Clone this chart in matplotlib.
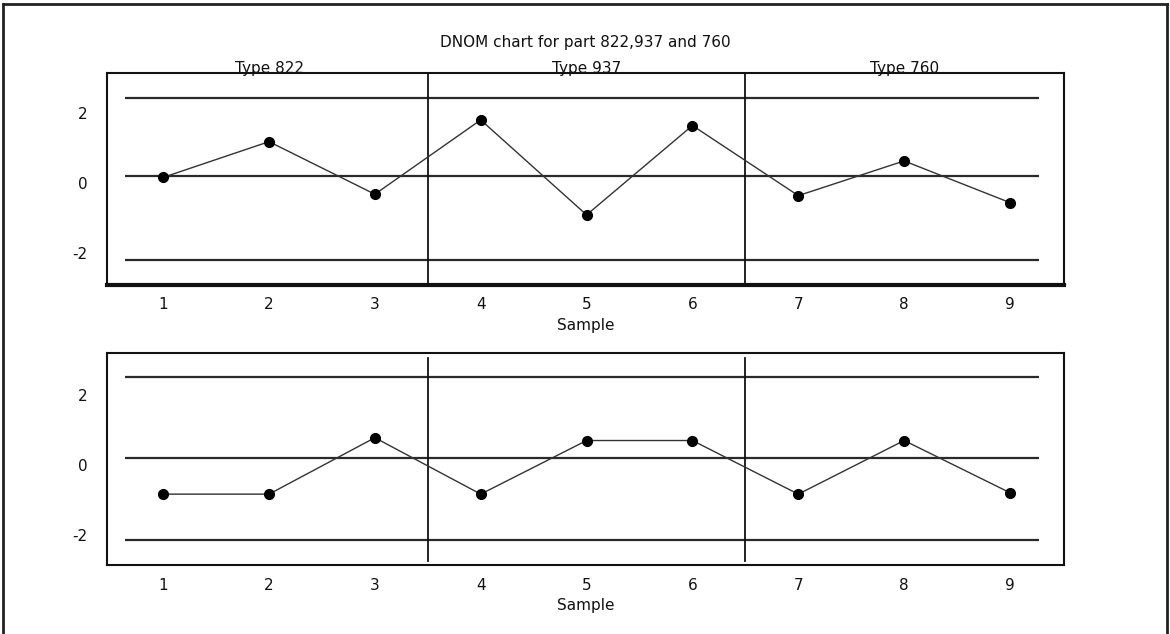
import matplotlib.pyplot as plt
import matplotlib.transforms as mtransforms
from matplotlib.lines import Line2D

plt.rcParams["axes.unicode_minus"] = False

# sample numbers and the part type each block of three belongs to
samples = [1, 2, 3, 4, 5, 6, 7, 8, 9]
type_names = ["Type 822", "Type 937", "Type 760"]
type_centers = [2, 5, 8]
type_breaks = [3.5, 6.5]

# deviation from nominal, one value per sample
top_values = [-0.05, 0.97, -0.53, 1.59, -1.12, 1.43, -0.57, 0.42, -0.77]
bottom_values = [-1.04, -1.04, 0.57, -1.04, 0.49, 0.49, -1.04, 0.49, -1.00]

# control limits: upper, centre, lower
top_limits = [2.23, 0.0, -2.40]
bottom_limits = [2.29, 0.0, -2.34]

y_ticks = [-2, 0, 2]

FONT = 11
INK = "#111111"


def draw_panel(ax, values, limits, ylim, thick_bottom=False, full_breaks=True):
    ax.set_xlim(0.47, 9.51)
    ax.set_ylim(*ylim)

    # control limit and centre lines
    for lim in limits:
        ax.hlines(lim, 0.64, 9.27, colors="#2a2a2a", linewidth=1.6)

    # separators between part types
    for b in type_breaks:
        if full_breaks:
            ax.axvline(b, color=INK, linewidth=1.3)
        else:
            ax.axvline(b, ymin=0.02, ymax=0.98, color=INK, linewidth=1.3)

    ax.plot(samples, values, color="#333333", linewidth=1.0,
            marker="o", markersize=7, markerfacecolor="black",
            markeredgecolor="black")

    ax.set_xticks(samples)
    ax.set_yticks(y_ticks)
    ax.tick_params(length=0, labelsize=FONT, colors=INK, pad=9)
    ax.tick_params(axis="y", pad=14)
    ax.set_xlabel("Sample", fontsize=FONT, color=INK, labelpad=4)

    for side in ["left", "right", "top", "bottom"]:
        ax.spines[side].set_linewidth(1.5)
        ax.spines[side].set_color(INK)
    if thick_bottom:
        ax.spines["bottom"].set_linewidth(3)

    # tick labels on the value axis sit a little below their level
    shift = mtransforms.ScaledTranslation(0, -7 / 100, ax.figure.dpi_scale_trans)
    for lbl in ax.get_yticklabels():
        lbl.set_transform(lbl.get_transform() + shift)


fig = plt.figure(figsize=(11.7, 6.34), dpi=100)
fig.patch.set_facecolor("white")

ax_top = fig.add_axes([0.0915, 0.5505, 0.8179, 0.3344])
ax_bot = fig.add_axes([0.0915, 0.1084, 0.8179, 0.3344])

draw_panel(ax_top, top_values, top_limits, (-3.12, 2.93), thick_bottom=True)
draw_panel(ax_bot, bottom_values, bottom_limits, (-3.07, 2.98), full_breaks=False)

# part type captions resting on the top frame
drop = mtransforms.ScaledTranslation(0, -3 / 100, fig.dpi_scale_trans)
for name, xc in zip(type_names, type_centers):
    ax_top.text(xc, 2.93, name, ha="center", va="bottom", fontsize=FONT,
                color=INK, transform=ax_top.transData + drop)

fig.text(0.5, 1 - 42 / 634, "DNOM chart for part 822,937 and 760",
         ha="center", va="center", fontsize=FONT, color=INK)

# outer frame of the chart window
W, H = 1170, 634
for xs, ys in [([3, 3], [0, 4]), ([3, 1167], [4, 4]), ([1167, 1167], [4, 0])]:
    fig.add_artist(Line2D([x / W for x in xs],
                          [1 - y / H if y else 0 for y in ys],
                          transform=fig.transFigure, color="#222222",
                          linewidth=2))

fig.savefig("out.png", dpi=100)
